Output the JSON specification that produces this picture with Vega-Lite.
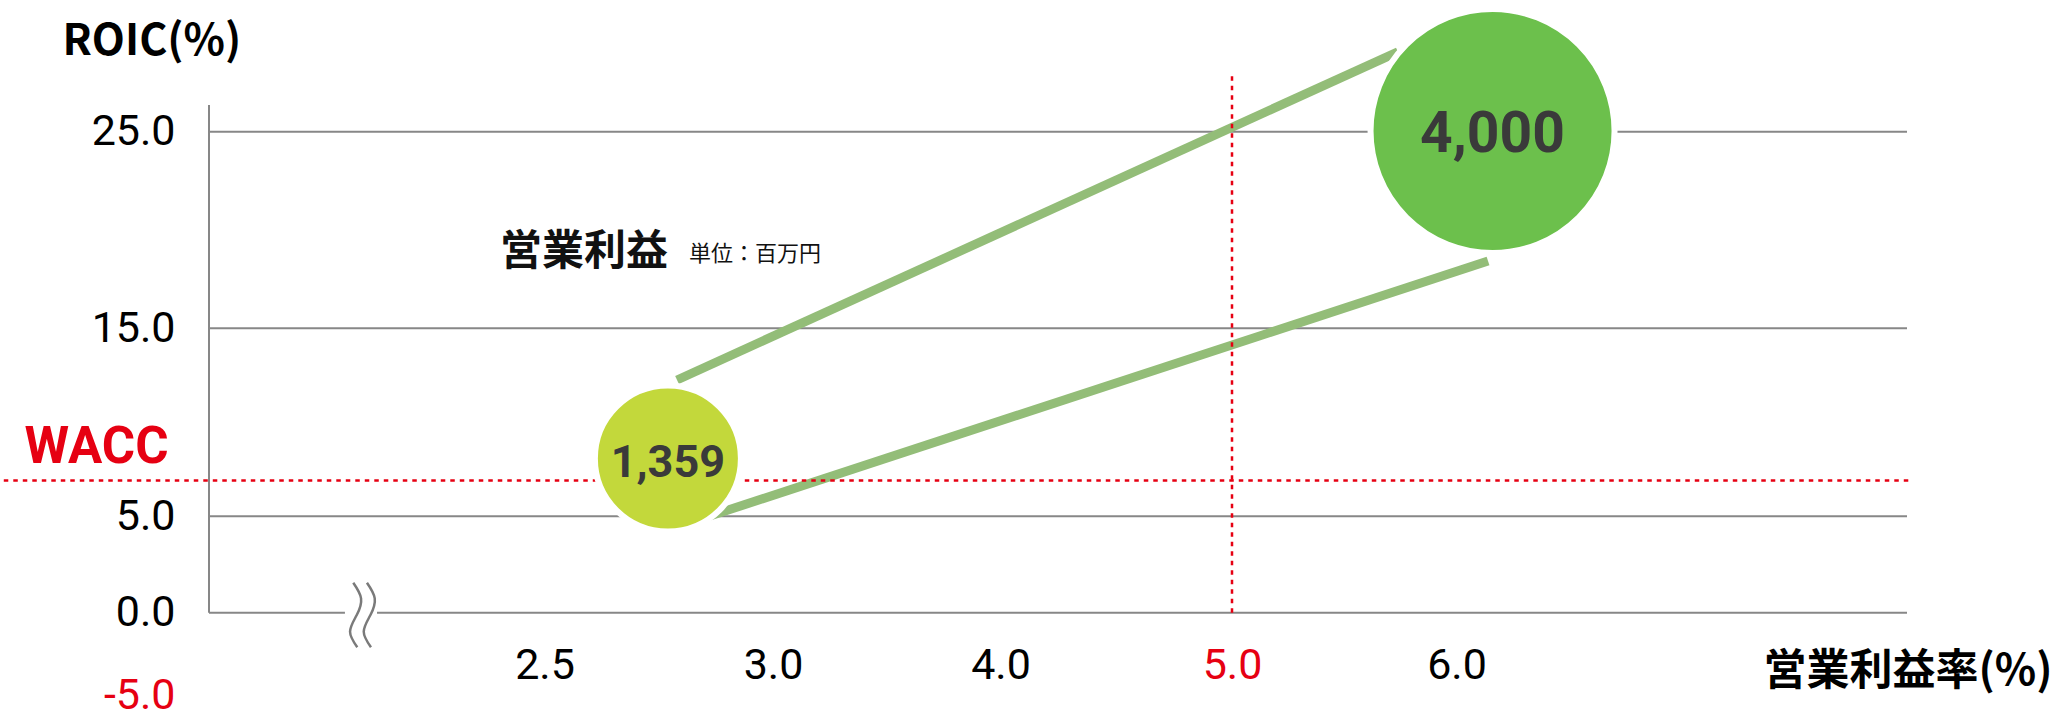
{
  "$schema": "https://vega.github.io/schema/vega-lite/v6.json",
  "width": 1698,
  "height": 596,
  "autosize": {"type": "none"},
  "padding": {"left": 209, "top": 105, "right": 158, "bottom": 17},
  "background": "white",
  "config": {"view": {"stroke": null}},
  "datasets": {
    "grid": [
      {"margin": 0, "margin2": 8, "roic": 5},
      {"margin": 0, "margin2": 8, "roic": 15},
      {"margin": 0, "margin2": 8, "roic": 25}
    ],
    "baseline": [
      {"margin": 0, "margin2": 1.013, "roic": 0},
      {"margin": 1.252, "margin2": 8, "roic": 0}
    ],
    "yaxis": [{"margin": 0, "roic": 0, "roic2": 26.36}],
    "wave": [
      {"w": "a", "pt": 1, "margin": 1.075, "roic": 1.556},
      {"w": "a", "pt": 2, "margin": 1.133, "roic": 0.747},
      {"w": "a", "pt": 3, "margin": 1.101, "roic": -0.14},
      {"w": "a", "pt": 4, "margin": 1.051, "roic": -1.15},
      {"w": "a", "pt": 5, "margin": 1.105, "roic": -2.1},
      {"w": "b", "pt": 1, "margin": 1.177, "roic": 1.556},
      {"w": "b", "pt": 2, "margin": 1.235, "roic": 0.747},
      {"w": "b", "pt": 3, "margin": 1.203, "roic": -0.14},
      {"w": "b", "pt": 4, "margin": 1.153, "roic": -1.15},
      {"w": "b", "pt": 5, "margin": 1.207, "roic": -2.1}
    ],
    "cone": [
      {"seg": "upper", "pt": 1, "margin": 2.79, "roic": 12.25},
      {"seg": "upper", "pt": 2, "margin": 5.739, "roic": 29.06},
      {"seg": "lower", "pt": 1, "margin": 2.86, "roic": 5.0},
      {"seg": "lower", "pt": 2, "margin": 6.14, "roic": 18.42}
    ],
    "wacc": [{"margin": -1.6, "margin2": 8.01, "roic": 6.9}],
    "target": [{"margin": 5, "roic": 0, "roic2": 27.9}],
    "bubbles": [
      {"period": "current", "margin": 2.77, "roic": 8.07, "profit": 1359},
      {"period": "target", "margin": 6.16, "roic": 25.04, "profit": 4000}
    ],
    "waccLabel": [{"label": "WACC", "margin": -0.838, "roic": 7.835}],
    "title1": [{"label": "営業利益", "margin": 2.168, "roic": 18.22}],
    "title2": [{"label": "単位：百万円", "margin": 2.816, "roic": 18.45}]
  },
  "encoding": {
    "x": {
      "field": "margin",
      "type": "quantitative",
      "scale": {
        "type": "linear",
        "domain": [0, 2.5, 3, 4, 5, 6, 8],
        "range": [0, 335.5, 564, 791.5, 1023, 1247.5, 1698],
        "nice": false,
        "zero": false
      },
      "axis": {
        "values": [2.5, 3, 4, 5, 6],
        "format": ".1f",
        "domain": false,
        "ticks": false,
        "grid": false,
        "offset": -36,
        "labelPadding": 0,
        "labelBaseline": "middle",
        "labelFont": "Roboto",
        "labelFontSize": 43,
        "labelOverlap": false,
        "labelFlush": false,
        "labelBound": false,
        "labelColor": {"condition": {"test": "datum.value == 5", "value": "#e60012"}, "value": "#000000"},
        "title": "営業利益率(%)",
        "titleFont": "Noto Sans CJK JP",
        "titleFontSize": 43,
        "titleFontWeight": "bold",
        "titleColor": "#000000",
        "titleAnchor": "start",
        "titleAlign": "left",
        "titleBaseline": "alphabetic",
        "titleX": 1554,
        "titleY": 19
      }
    },
    "y": {
      "field": "roic",
      "type": "quantitative",
      "scale": {
        "type": "linear",
        "domain": [-5, 0, 5, 15, 25, 26.36],
        "range": [590, 507.7, 411.3, 223.3, 26.8, 0],
        "nice": false,
        "zero": false
      },
      "axis": {
        "values": [-5, 0, 5, 15, 25],
        "domain": false,
        "ticks": false,
        "grid": false,
        "labelPadding": 34,
        "labelFont": "Roboto",
        "labelFontSize": 43,
        "labelBaseline": "middle",
        "labelOverlap": false,
        "labelBound": false,
        "labelExpr": "datum.value < 0 ? '-' + format(-datum.value, '.1f') : format(datum.value, '.1f')",
        "labelColor": {"condition": {"test": "datum.value < 0", "value": "#e60012"}, "value": "#000000"},
        "title": "ROIC(%)",
        "titleFont": "Noto Sans CJK JP",
        "titleFontSize": 43,
        "titleFontWeight": "bold",
        "titleColor": "#000000",
        "titleAngle": 0,
        "titleAlign": "left",
        "titleBaseline": "alphabetic",
        "titleX": -147,
        "titleY": -51
      }
    }
  },
  "layer": [
    {
      "data": {"name": "grid"},
      "mark": {"type": "rule", "color": "#878787", "strokeWidth": 2},
      "encoding": {"x2": {"field": "margin2"}}
    },
    {
      "data": {"name": "baseline"},
      "mark": {"type": "rule", "color": "#878787", "strokeWidth": 2},
      "encoding": {"x2": {"field": "margin2"}}
    },
    {
      "data": {"name": "yaxis"},
      "mark": {"type": "rule", "color": "#878787", "strokeWidth": 2},
      "encoding": {"y2": {"field": "roic2"}}
    },
    {
      "data": {"name": "wave"},
      "mark": {"type": "line", "interpolate": "natural", "color": "#7a7a7a", "strokeWidth": 2.5},
      "encoding": {"detail": {"field": "w"}, "order": {"field": "pt"}}
    },
    {
      "data": {"name": "cone"},
      "mark": {"type": "line", "color": "#93bd78", "strokeWidth": 9, "strokeCap": "butt"},
      "encoding": {"detail": {"field": "seg"}, "order": {"field": "pt"}}
    },
    {
      "data": {"name": "wacc"},
      "mark": {"type": "rule", "color": "#e60012", "strokeWidth": 2.5, "strokeDash": [4.5, 5]},
      "encoding": {"x2": {"field": "margin2"}}
    },
    {
      "data": {"name": "target"},
      "mark": {"type": "rule", "color": "#e60012", "strokeWidth": 2.5, "strokeDash": [4.5, 5]},
      "encoding": {"y2": {"field": "roic2"}}
    },
    {
      "data": {"name": "bubbles"},
      "mark": {"type": "circle", "opacity": 1, "stroke": "#ffffff", "strokeWidth": 6},
      "encoding": {
        "size": {
          "field": "profit",
          "type": "quantitative",
          "scale": {"type": "linear", "domain": [1359, 4000], "range": [21316, 59536], "zero": false},
          "legend": null
        },
        "color": {
          "field": "period",
          "type": "nominal",
          "scale": {"domain": ["current", "target"], "range": ["#c3d83b", "#6cc04c"]},
          "legend": null
        }
      }
    },
    {
      "data": {"name": "bubbles"},
      "mark": {"type": "text", "font": "Roboto", "fontWeight": "bold", "color": "#3a3a3a", "align": "center", "baseline": "middle", "dy": 4},
      "encoding": {
        "text": {"field": "profit", "type": "quantitative", "format": ","},
        "size": {"condition": {"test": "datum.profit > 3000", "value": 57}, "value": 45}
      }
    },
    {
      "data": {"name": "waccLabel"},
      "mark": {"type": "text", "font": "Roboto", "fontWeight": "bold", "fontSize": 51, "color": "#e60012", "align": "center", "baseline": "alphabetic"},
      "encoding": {"text": {"field": "label"}}
    },
    {
      "data": {"name": "title1"},
      "mark": {"type": "text", "font": "Noto Sans CJK JP", "fontWeight": "bold", "fontSize": 42, "color": "#111111", "align": "left", "baseline": "alphabetic"},
      "encoding": {"text": {"field": "label"}}
    },
    {
      "data": {"name": "title2"},
      "mark": {"type": "text", "font": "Noto Sans CJK JP", "fontSize": 22, "color": "#111111", "align": "left", "baseline": "alphabetic"},
      "encoding": {"text": {"field": "label"}}
    }
  ]
}
